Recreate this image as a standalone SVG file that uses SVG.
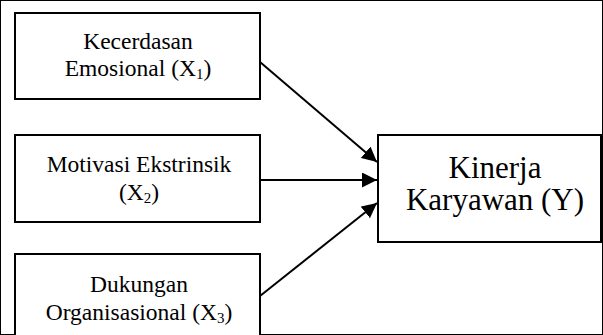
<svg xmlns="http://www.w3.org/2000/svg" width="603" height="335" viewBox="0 0 603 335">
  <defs>
    <marker id="arr" viewBox="0 0 10 10" refX="10" refY="5" markerWidth="7.5" markerHeight="7.5" markerUnits="strokeWidth" orient="auto">
      <path d="M0,0 L10,5 L0,10 Z" fill="#000"/>
    </marker>
    <style>
      rect { fill: #fff; stroke: #000; stroke-width: 2; }
      text { font-family: "Liberation Serif", "Times New Roman", serif; fill: #000; text-anchor: middle; }
      .s { font-size: 23.5px; }
      .b { font-size: 31px; }
      .sub { font-size: 15px; }
      .conn line { stroke: #000; stroke-width: 2; marker-end: url(#arr); }
    </style>
  </defs>
  <rect width="603" height="335" fill="#fff" stroke="none"/>
  <g id="x1">
    <rect x="15" y="13" width="245" height="86"/>
    <text class="s" x="138" y="49">Kecerdasan</text>
    <text class="s" x="138" y="76">Emosional (X<tspan class="sub" dy="3">1</tspan><tspan dy="-3">)</tspan></text>
  </g>
  <g id="x2">
    <rect x="15" y="135" width="245" height="87"/>
    <text class="s" x="139" y="172">Motivasi Ekstrinsik</text>
    <text class="s" x="139" y="200">(X<tspan class="sub" dy="3">2</tspan><tspan dy="-3">)</tspan></text>
  </g>
  <g id="x3">
    <rect x="15" y="254" width="245" height="95"/>
    <text class="s" x="139" y="292">Dukungan</text>
    <text class="s" x="139" y="320">Organisasional (X<tspan class="sub" dy="3">3</tspan><tspan dy="-3">)</tspan></text>
  </g>
  <g id="y">
    <rect x="378" y="135" width="223" height="107"/>
    <text class="b" x="495" y="178">Kinerja</text>
    <text class="b" x="495" y="210">Karyawan (Y)</text>
  </g>
  <g class="conn">
    <line x1="260" y1="62" x2="377" y2="162"/>
    <line x1="260" y1="180" x2="377" y2="180"/>
    <line x1="260" y1="296" x2="377" y2="203"/>
  </g>
</svg>
